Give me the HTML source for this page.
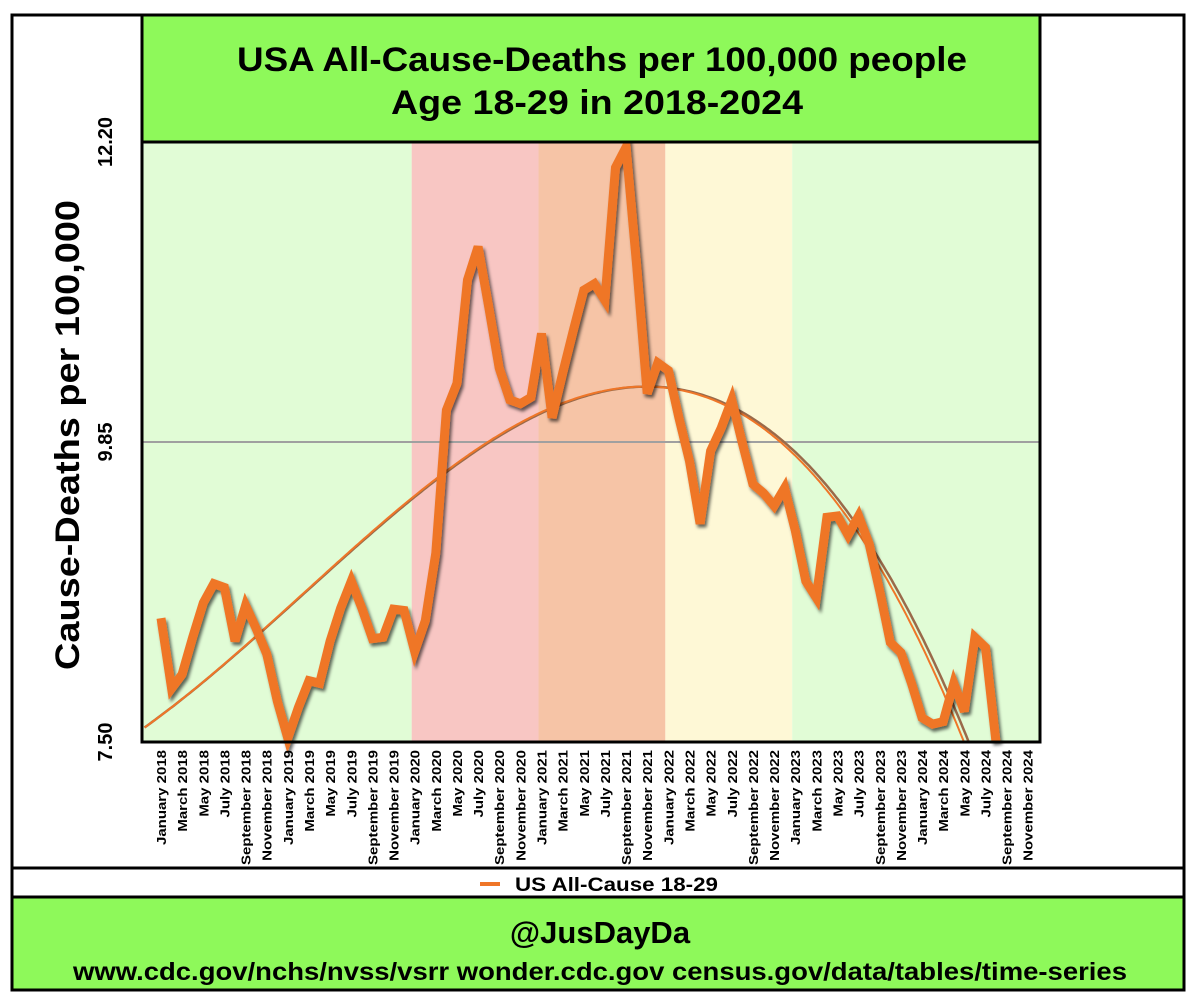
<!DOCTYPE html>
<html><head><meta charset="utf-8">
<style>
html,body{margin:0;padding:0;background:#fff;}
svg{display:block;font-family:"Liberation Sans",Arial,sans-serif;}
</style></head>
<body>
<svg id="chart" width="1200" height="1004" viewBox="0 0 1200 1004">
<defs>
<filter id="sh" x="-10%" y="-10%" width="120%" height="120%">
<feDropShadow dx="2" dy="3" stdDeviation="1.5" flood-color="#000" flood-opacity="0.6"/>
</filter>
</defs>
<rect x="0" y="0" width="1200" height="1004" fill="#fff"/>
<g id="bands"></g>
<line id="refline" x1="142" x2="1040" stroke="#a0a0a0" stroke-width="2"/>
<g id="trend"></g>
<path id="series" fill="none" stroke="#ef7628" stroke-width="9" stroke-linejoin="miter" filter="url(#sh)"/>
<rect x="142" y="15" width="898" height="127" fill="#8ef95a" stroke="#000" stroke-width="3"/>
<text x="237" y="71" textLength="730" lengthAdjust="spacingAndGlyphs" font-size="34" font-weight="bold">USA All-Cause-Deaths per 100,000 people</text>
<text x="391" y="114" textLength="412" lengthAdjust="spacingAndGlyphs" font-size="34" font-weight="bold">Age 18-29 in 2018-2024</text>
<rect x="142" y="142" width="898" height="600" fill="none" stroke="#000" stroke-width="3"/>
<line x1="142" y1="15" x2="142" y2="742" stroke="#000" stroke-width="3"/>
<line x1="1040" y1="15" x2="1040" y2="742" stroke="#000" stroke-width="3"/>
<g id="yticks"></g>
<text transform="translate(79,670) rotate(-90)" textLength="470" lengthAdjust="spacingAndGlyphs" font-size="34" font-weight="bold">Cause-Deaths per 100,000</text>
<g id="xticks"></g>
<line x1="12" y1="868" x2="1184" y2="868" stroke="#000" stroke-width="3"/>
<g>
<line x1="480" y1="884" x2="500" y2="884" stroke="#ef7628" stroke-width="4"/>
<text x="515" y="891" textLength="203" lengthAdjust="spacingAndGlyphs" font-size="19" font-weight="bold">US All-Cause 18-29</text>
</g>
<rect x="12" y="897" width="1172" height="93" fill="#8ef95a" stroke="#000" stroke-width="3"/>
<text x="600" y="943" text-anchor="middle" font-size="31" font-weight="bold">@JusDayDa</text>
<text x="73" y="980" textLength="1054" lengthAdjust="spacingAndGlyphs" font-size="25" font-weight="bold">www.cdc.gov/nchs/nvss/vsrr  wonder.cdc.gov  census.gov/data/tables/time-series</text>
<rect x="12" y="15" width="1172" height="975" fill="none" stroke="#000" stroke-width="3"/>
</svg>
<script>
const values = [8.47,7.92,8.03,8.32,8.59,8.74,8.71,8.29,8.57,8.39,8.19,7.82,
7.53,7.77,7.98,7.96,8.29,8.55,8.76,8.55,8.31,8.32,8.54,8.53,
8.21,8.45,8.98,10.10,10.31,11.12,11.38,10.91,10.43,10.18,10.15,10.20,
10.70,10.04,10.39,10.72,11.04,11.09,10.96,12.00,12.16,11.23,10.23,10.47,
10.41,10.04,9.70,9.21,9.78,9.96,10.18,9.84,9.52,9.45,9.35,9.49,
9.16,8.76,8.63,9.26,9.27,9.12,9.27,9.05,8.68,8.28,8.20,7.96,
7.69,7.64,7.66,7.96,7.74,8.32,8.24,7.45];
const monthNames = ["January","March","May","July","September","November"];
const years = [2018,2019,2020,2021,2022,2023,2024];
const yTickValues = [7.50, 9.85, 12.20];
const bandStartMonths = [0,24,36,48,60];
const bandEndMonths = [24,36,48,60,85];
const bandColors = ["#e1fcd6","#f8c6c3","#f6c4a6","#fef8d6","#e1fcd6"];

const NS="http://www.w3.org/2000/svg";
const PX0=142,PX1=1040,PY0=142,PY1=742;
const yMin=7.5,yMax=12.2;
function xScale(m){return 161+10.57*m;}
function yScale(v){return PY1-(v-yMin)/(yMax-yMin)*(PY1-PY0);}
function mk(tag,attrs,parent){const e=document.createElementNS(NS,tag);for(const k in attrs)e.setAttribute(k,attrs[k]);parent.appendChild(e);return e;}

const bands=document.getElementById('bands');
bandStartMonths.forEach((s,i)=>{
  const x0=Math.max(PX0,s===0?PX0:xScale(s)-3), x1=Math.min(PX1,bandEndMonths[i]>=84?PX1:xScale(bandEndMonths[i])-3);
  const r=mk('rect',{x:x0,y:PY0,width:x1-x0,height:PY1-PY0,fill:bandColors[i]},bands);
  
  
});
const rl=document.getElementById('refline');
rl.setAttribute('y1',yScale(yTickValues[1]));rl.setAttribute('y2',yScale(yTickValues[1]));

let d='';
values.forEach((v,i)=>{let y=Math.min(yScale(v),PY1);d+=(i?'L':'M')+xScale(i).toFixed(1)+','+y.toFixed(1);});
document.getElementById('series').setAttribute('d',d);

(function(){
  const n=values.length,deg=3;
  const A=[];for(let r=0;r<=deg;r++){A.push(new Array(deg+2).fill(0));}
  const t=i=>i/n;
  for(let i=0;i<n;i++){for(let r=0;r<=deg;r++){for(let c=0;c<=deg;c++)A[r][c]+=Math.pow(t(i),r+c);A[r][deg+1]+=values[i]*Math.pow(t(i),r);}}
  for(let c=0;c<=deg;c++){let p=c;for(let r=c+1;r<=deg;r++)if(Math.abs(A[r][c])>Math.abs(A[p][c]))p=r;[A[c],A[p]]=[A[p],A[c]];
    for(let r=0;r<=deg;r++){if(r===c)continue;const f=A[r][c]/A[c][c];for(let k=c;k<=deg+1;k++)A[r][k]-=f*A[c][k];}}
  const co=A.map((row,i)=>row[deg+1]/row[i]);
  const f=m=>co.reduce((s,c,k)=>s+c*Math.pow(m/n,k),0);
  const tg=document.getElementById('trend');
  [[5,'#9a6a4a',2.5],[0,'#ef7628',2]].forEach(([off,col,w])=>{
    let pd='';let started=false;
    for(let m=-1.8;m<=85;m+=0.25){const x=xScale(m)+off*(m/80),y=yScale(f(m));if(x<PX0||x>PX1||y>PY1||y<PY0){if(started)break;continue;}pd+=(started?'L':'M')+x.toFixed(1)+','+y.toFixed(1);started=true;}
    const p=mk('path',{d:pd,fill:'none',stroke:col,'stroke-width':w},tg);
    
    
  });
})();

const yt=document.getElementById('yticks');
yTickValues.forEach(v=>{
  const t=mk('text',{transform:`translate(112,${yScale(v)}) rotate(-90)`,'text-anchor':'middle','font-size':'20','font-weight':'bold'},yt);
  t.textContent=v.toFixed(2);
  
  
});
const xt=document.getElementById('xticks');
years.forEach((yr,yi)=>{monthNames.forEach((mn,mi)=>{
  const m=yi*12+mi*2;
  const t=mk('text',{transform:`translate(${xScale(m)+5},750) rotate(-90) scale(1.2,1)`,'text-anchor':'end','font-size':'12.5','font-weight':'bold'},xt);
  t.textContent=mn+' '+yr;
  
  
});});
</script>
</body></html>
